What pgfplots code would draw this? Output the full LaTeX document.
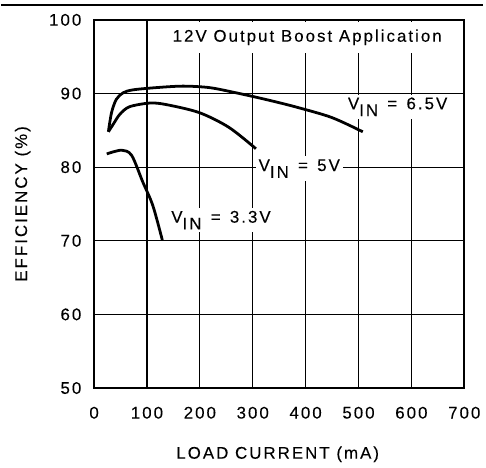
\documentclass[border=0pt]{standalone}
\usepackage{fontspec}
\setmainfont[LetterSpace=12, FakeBold=0.12]{Liberation Sans}
\usepackage{pgfplots}
\pgfplotsset{compat=1.18}

\newcommand{\vin}{V\raisebox{-0.4em}{IN}}
\newcommand{\eq}{\hspace{0.55em}=\hspace{0.55em}}

\begin{document}
\fontsize{17}{20}\selectfont
\begin{tikzpicture}
\begin{axis}[
  scale only axis,
  width=373pt, height=371pt,
  xmin=0, xmax=700, ymin=50, ymax=100,
  xtick={0,100,...,700}, ytick={50,60,...,100},
  grid=major,
  major grid style={black, line width=1.1pt},
  axis line style={line width=1.8pt},
  tick style={draw=none},
  /pgf/number format/assume math mode=true,
  xticklabel style={yshift=-13pt},
  yticklabel style={xshift=-7pt},
  xlabel={LOAD CURRENT (mA)},
  ylabel={EFFICIENCY (\%)},
  xlabel style={at={(axis description cs:0.496,-0.18)}, anchor=center},
  ylabel style={at={(axis description cs:-0.193,0.5)}, anchor=center},
]
\node[fill=white, anchor=north, inner xsep=4pt, inner ysep=8pt, yshift=-1.5pt]
  at (axis cs:403,100) {12V Output Boost Application};
\node[fill=white, inner sep=3pt] at (axis cs:574,88.2) {\vin\eq 6.5V};
\node[fill=white, inner sep=3pt] at (axis cs:388,79.8) {\vin\eq 5V};
\node[fill=white, inner sep=3pt] at (axis cs:240,72.8) {\vin\eq 3.3V};

% VIN = 6.5V
\addplot[black, line width=2.8pt, smooth, tension=0.5] coordinates {
  (27,84.8) (33,87.4) (42,89.2) (55,90.1) (74,90.5) (118,90.8)
  (168,91.0) (218,90.8) (268,90.1) (324,89.2) (380,88.2) (449,86.75) (508,84.8)
};
% VIN = 5V
\addplot[black, line width=2.8pt, smooth, tension=0.5] coordinates {
  (27,84.8) (36,85.8) (49,87.2) (67,88.2) (105,88.7) (136,88.5)
  (199,87.4) (255,85.4) (306,82.5)
};
% VIN = 3.3V
\addplot[black, line width=2.8pt, smooth, tension=0.5] coordinates {
  (24,81.8) (52,82.3) (71,81.6) (92,78.0) (111,74.8) (129,70.1)
};
\end{axis}
\draw[line width=1.6pt] (-94pt,386pt) -- (392pt,386pt);
\path (-94pt,-75pt) rectangle (392pt,391pt);
\end{tikzpicture}
\end{document}
